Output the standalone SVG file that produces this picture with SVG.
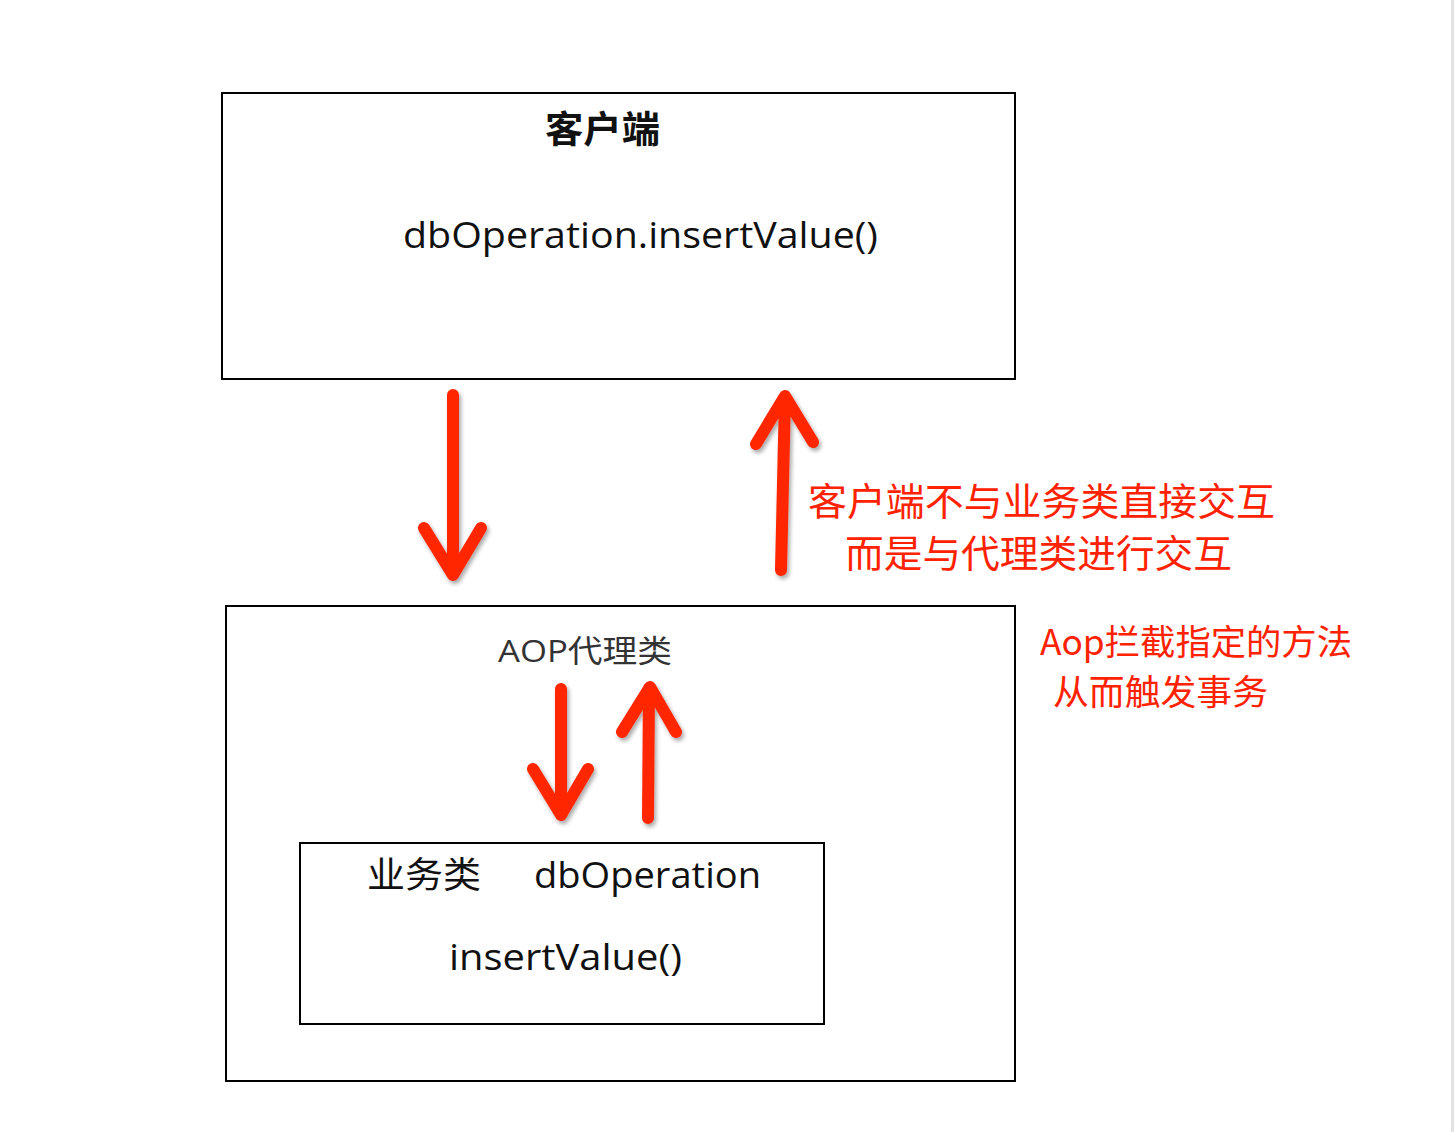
<svg xmlns="http://www.w3.org/2000/svg" width="1454" height="1132" viewBox="0 0 1454 1132">
<style>
.box{fill:#fff;stroke:#000;stroke-width:2}
.t{font-family:"Open Sans","Noto Sans CJK SC",sans-serif;fill:#111}
.r{font-family:"Noto Sans CJK SC",sans-serif;fill:#ff2200}
.arr{fill:none;stroke:#ff2600;stroke-width:12;stroke-linecap:round;stroke-linejoin:round}
</style>
<defs>
<filter id="sh" x="-50%" y="-20%" width="200%" height="140%">
<feDropShadow dx="2" dy="3" stdDeviation="2" flood-color="#000" flood-opacity="0.35"/>
</filter>
</defs>
<rect width="1454" height="1132" fill="#fff"/>
<rect x="1451" y="0" width="3" height="1132" fill="#e2e2e2"/>
<g id="client">
<rect class="box" x="222" y="93" width="793" height="286"/>
<text class="t" x="545" y="143" font-size="37" font-weight="bold" textLength="115" lengthAdjust="spacingAndGlyphs">客户端</text>
<text class="t" x="403" y="248" font-size="36" textLength="475" lengthAdjust="spacingAndGlyphs">dbOperation.insertValue()</text>
</g>
<g id="proxy">
<rect class="box" x="226" y="606" width="789" height="475"/>
<text class="t" x="498" y="662" font-size="31" style="fill:#333" textLength="174" lengthAdjust="spacingAndGlyphs">AOP代理类</text>
</g>
<g id="service">
<rect class="box" x="300" y="843" width="524" height="181"/>
<text class="t" x="367" y="888" font-size="36" textLength="114" lengthAdjust="spacingAndGlyphs">业务类</text>
<text class="t" x="534" y="888" font-size="36" textLength="227" lengthAdjust="spacingAndGlyphs">dbOperation</text>
<text class="t" x="449" y="970" font-size="36" textLength="233" lengthAdjust="spacingAndGlyphs">insertValue()</text>
</g>
<g id="notes">
<text class="r" x="808" y="515" font-size="38" textLength="467" lengthAdjust="spacingAndGlyphs">客户端不与业务类直接交互</text>
<text class="r" x="845" y="567" font-size="38" textLength="387" lengthAdjust="spacingAndGlyphs">而是与代理类进行交互</text>
<text class="r" x="1040" y="655" font-size="35" textLength="312" lengthAdjust="spacingAndGlyphs">Aop拦截指定的方法</text>
<text class="r" x="1053" y="705" font-size="35" textLength="215" lengthAdjust="spacingAndGlyphs">从而触发事务</text>
</g>
<g id="connectors" filter="url(#sh)">
<path class="arr" d="M453 395 L453 575 M424 528 L453 575 L481 528"/>
<path class="arr" d="M781 570 L785 397 M756 444 L785 396 L813 442"/>
<path class="arr" d="M561 689 L561 815 M533 769 L561 815 L588 769"/>
<path class="arr" d="M648 818 L649 688 M622 732 L650 687 L676 732"/>
</g>
</svg>
